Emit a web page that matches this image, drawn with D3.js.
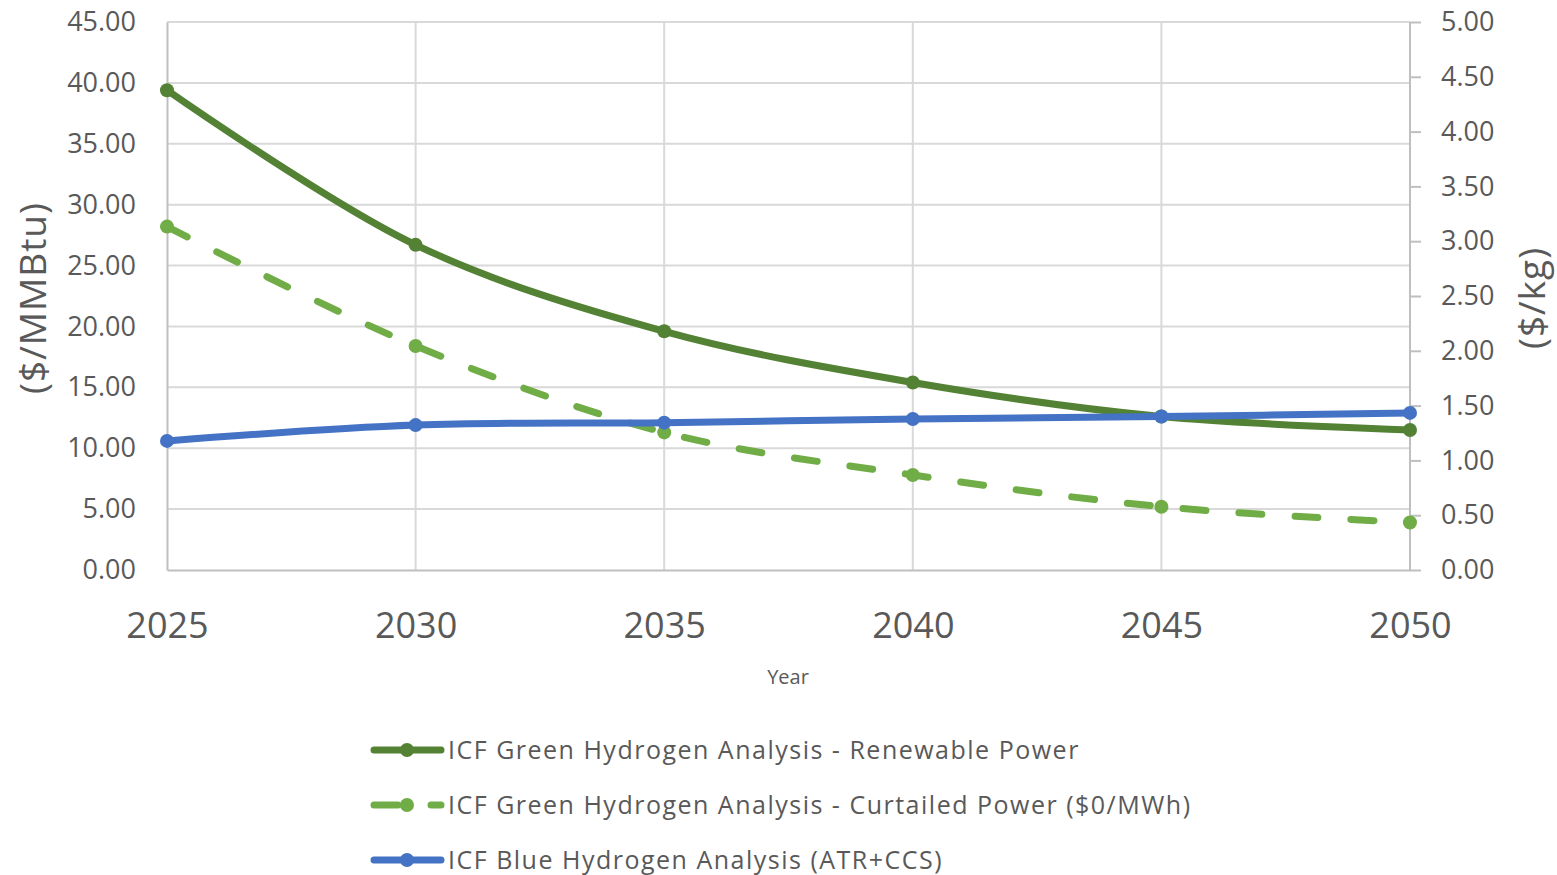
<!DOCTYPE html>
<html>
<head>
<meta charset="utf-8">
<script src="https://cdn.jsdelivr.net/npm/d3@7"></script>
<style>
  html, body { margin: 0; padding: 0; background: #fff; }
  svg { display: block; font-family: "Open Sans", "Liberation Sans", sans-serif; }
</style>
</head>
<body>
<svg id="chart" width="1557" height="875"></svg>
<script>
// Hydrogen production cost projections, $/MMBtu (left) with $/kg equivalent (right)
const years = [2025, 2030, 2035, 2040, 2045, 2050];
const renewablePower = [39.4, 26.7, 19.6, 15.4, 12.6, 11.5];
const curtailedPower = [28.2, 18.4, 11.3, 7.8, 5.2, 3.9];
const blueHydrogen   = [10.6, 11.9, 12.1, 12.4, 12.6, 12.9];

const leftTicks  = [0, 5, 10, 15, 20, 25, 30, 35, 40, 45];
const rightTicks = [0, 0.5, 1, 1.5, 2, 2.5, 3, 3.5, 4, 4.5, 5];

const seriesNames = [
  "ICF Green Hydrogen Analysis - Renewable Power",
  "ICF Green Hydrogen Analysis - Curtailed Power ($0/MWh)",
  "ICF Blue Hydrogen Analysis (ATR+CCS)"
];
const seriesColors = ["#548235", "#70ad47", "#4472c4"];
const seriesDash = [null, "23,33", null];

const series = [
  { name: seriesNames[1], values: curtailedPower, color: seriesColors[1], dash: seriesDash[1] },
  { name: seriesNames[0], values: renewablePower, color: seriesColors[0], dash: seriesDash[0] },
  { name: seriesNames[2], values: blueHydrogen,   color: seriesColors[2], dash: seriesDash[2] }
];

const svg = d3.select("#chart");
const plot = { left: 167, right: 1410, top: 22, bottom: 570 };

const x = d3.scaleLinear().domain([2025, 2050]).range([plot.left, plot.right]);
const y = d3.scaleLinear().domain([0, 45]).range([plot.bottom, plot.top]);
const y2 = d3.scaleLinear().domain([0, 5]).range([plot.bottom, plot.top]);

const textColor = "#595959";
const gridColor = "#d9d9d9";
const axisColor = "#bfbfbf";

// Horizontal gridlines
svg.append("g")
  .selectAll("line")
  .data(leftTicks.filter(d => d > 0))
  .join("line")
  .attr("x1", plot.left).attr("x2", plot.right)
  .attr("y1", d => y(d)).attr("y2", d => y(d))
  .attr("stroke", gridColor).attr("stroke-width", 2);

// Vertical gridlines
svg.append("g")
  .selectAll("line")
  .data(years.slice(1, -1))
  .join("line")
  .attr("x1", d => x(d)).attr("x2", d => x(d))
  .attr("y1", plot.top).attr("y2", plot.bottom)
  .attr("stroke", gridColor).attr("stroke-width", 2);

// Left axis
const leftAxis = d3.axisLeft(y).tickValues(leftTicks).tickFormat(d3.format(".2f")).tickSize(0).tickPadding(31);
const gL = svg.append("g").attr("transform", `translate(${plot.left},0)`).call(leftAxis);
gL.select(".domain").attr("stroke", axisColor).attr("stroke-width", 2);
gL.selectAll("text").attr("fill", textColor).attr("font-size", 27).attr("font-family", "Open Sans");

// Right axis
const rightAxis = d3.axisRight(y2).tickValues(rightTicks).tickFormat(d3.format(".2f")).tickSize(11).tickPadding(20);
const gR = svg.append("g").attr("transform", `translate(${plot.right},0)`).call(rightAxis);
gR.select(".domain").attr("stroke", axisColor).attr("stroke-width", 2).attr("d", `M0,${plot.top}V${plot.bottom}`);
gR.selectAll(".tick line").attr("stroke", axisColor).attr("stroke-width", 2);
gR.selectAll("text").attr("fill", textColor).attr("font-size", 27).attr("font-family", "Open Sans");

// Bottom axis
const bottomAxis = d3.axisBottom(x).tickValues(years).tickFormat(d3.format("d")).tickSize(0).tickPadding(42);
const gB = svg.append("g").attr("transform", `translate(0,${plot.bottom})`).call(bottomAxis);
gB.select(".domain").attr("stroke", axisColor).attr("stroke-width", 2);
gB.selectAll("text").attr("fill", textColor).attr("font-size", 36).attr("font-family", "Open Sans");

// Axis titles
svg.append("text")
  .attr("transform", "translate(46,298) rotate(-90)")
  .attr("text-anchor", "middle")
  .attr("fill", textColor).attr("font-size", 37).attr("letter-spacing", 1)
  .text("($/MMBtu)");
svg.append("text")
  .attr("transform", "translate(1545,298) rotate(-90)")
  .attr("text-anchor", "middle")
  .attr("fill", textColor).attr("font-size", 37).attr("letter-spacing", 1)
  .text("($/kg)");
svg.append("text")
  .attr("x", 788).attr("y", 684)
  .attr("text-anchor", "middle")
  .attr("fill", textColor).attr("font-size", 20)
  .text("Year");

// Series lines and markers
const line = d3.line()
  .x((d, i) => x(years[i]))
  .y(d => y(d))
  .curve(d3.curveCatmullRom.alpha(0.5));

series.forEach(s => {
  const g = svg.append("g");
  g.append("path")
    .attr("d", line(s.values))
    .attr("fill", "none")
    .attr("stroke", s.color)
    .attr("stroke-width", 7)
    .attr("stroke-linecap", "round")
    .attr("stroke-linejoin", "round")
    .attr("stroke-dasharray", s.dash);
  g.selectAll("circle")
    .data(s.values)
    .join("circle")
    .attr("cx", (d, i) => x(years[i]))
    .attr("cy", d => y(d))
    .attr("r", 7)
    .attr("fill", s.color);
});

// Legend
const legendRows = [0, 1, 2].map(i => ({ name: seriesNames[i], color: seriesColors[i], dash: seriesDash[i] }));
const legend = svg.append("g");
legendRows.forEach((r, i) => {
  const yy = 750 + i * 55;
  const row = legend.append("g");
  if (r.dash) {
    row.append("line").attr("x1", 374).attr("x2", 398).attr("y1", yy).attr("y2", yy)
      .attr("stroke", r.color).attr("stroke-width", 7).attr("stroke-linecap", "round");
    row.append("line").attr("x1", 431).attr("x2", 441).attr("y1", yy).attr("y2", yy)
      .attr("stroke", r.color).attr("stroke-width", 7).attr("stroke-linecap", "round");
  } else {
    row.append("line").attr("x1", 374).attr("x2", 441).attr("y1", yy).attr("y2", yy)
      .attr("stroke", r.color).attr("stroke-width", 7).attr("stroke-linecap", "round");
  }
  row.append("circle").attr("cx", 407).attr("cy", yy).attr("r", 7).attr("fill", r.color);
  row.append("text")
    .attr("x", 448).attr("y", yy + 9)
    .attr("fill", textColor).attr("font-size", 25).attr("letter-spacing", 1.5)
    .text(r.name);
});
</script>
</body>
</html>
